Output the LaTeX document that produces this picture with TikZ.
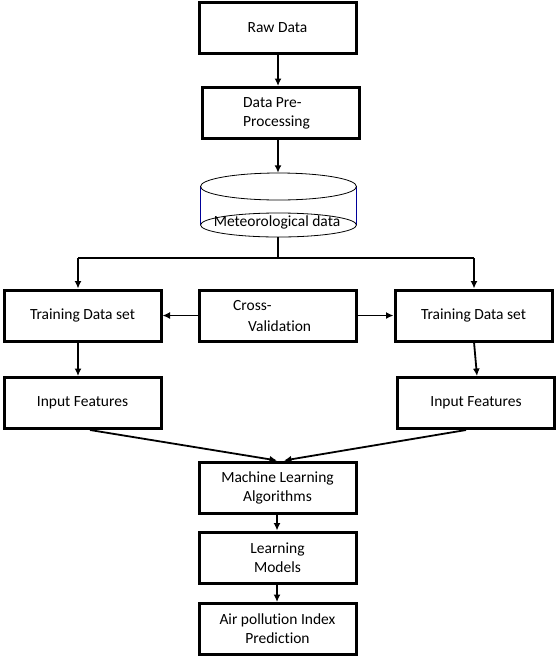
\documentclass[tikz,border=0pt]{standalone}
\usepackage{fontspec}
\setmainfont{Carlito}[RawFeature=-liga]
\usetikzlibrary{arrows.meta}
\begin{document}
\begin{tikzpicture}[x=1pt,y=-1pt,
  box/.style={draw=black,line width=3pt,minimum width=157pt,minimum height=51pt,inner sep=0pt,font=\fontsize{15.5}{19}\selectfont,align=center},
  txt/.style={font=\fontsize{15.5}{19}\selectfont,inner sep=0pt},
  arr/.style={line width=1.8pt,-{Latex[length=7.5pt,width=7pt]}},
  ln/.style={line width=1.8pt}]
\useasboundingbox (0,0) rectangle (557,657);
% boxes
\node[box] (raw) at (277.5,27.5) {Raw Data};
\node[box] (pre) at (280.5,113) {};
\node[txt,anchor=west,align=left] (pret) at (243,113) {Data Pre-\\Processing};
% cylinder
\node[inner sep=0pt,minimum width=157pt,minimum height=64pt] (cyl) at (278.5,205) {};
\draw[line width=0.6pt,draw=black!40!blue] (200.5,186.5) -- (200.5,225);
\draw[line width=0.6pt,draw=black!40!blue] (356.5,186.5) -- (356.5,225);
\draw[line width=0.8pt,fill=white] (278.5,186.5) ellipse [x radius=78, y radius=13.5];
\draw[line width=0.8pt] (278.5,225) ellipse [x radius=78, y radius=12];
\node[txt] (cylt) at (277,222) {Meteorological data};
% second row
\node[box] (ltr) at (82.5,315.5) {Training Data set};
\node[box] (cv) at (277.5,315.5) {};
\node[txt,anchor=west] (cvt1) at (233,306) {Cross-};
\node[txt,anchor=west] (cvt2) at (248,326) {Validation};
\node[box] (rtr) at (473.5,315.5) {Training Data set};
% third row
\node[box] (lin) at (82.5,403) {Input Features};
\node[box] (rin) at (476,403) {Input Features};
% bottom
\node[box] (ml) at (277.5,487.5) {Machine Learning\\Algorithms};
\node[box] (lm) at (277.5,557.5) {Learning\\Models};
\node[box] (ap) at (277.5,629) {Air pollution Index\\Prediction};
% connectors
\draw[arr] (raw.south -| 278,0) -- (pre.north -| 278,0);
\draw[arr] (pre.south -| 278,0) -- (cyl.north -| 278,0);
\coordinate (split) at (278,258);
\coordinate (splitl) at (78,258);
\coordinate (splitr) at (474,258);
\draw[ln] (cyl.south -| split) -- (split);
\draw[ln] (splitl) -- (splitr);
\draw[arr] (splitl) -- (ltr.north -| splitl);
\draw[arr] (splitr) -- (rtr.north -| splitr);
\draw[arr] (cv.west) -- (ltr.east);
\draw[arr] (cv.east) -- (rtr.east -| rtr.west);
\draw[arr] (ltr.south -| 78,0) -- (lin.north -| 78,0);
\draw[arr] (474,342) -- (rin.north -| 477,0);
\draw[arr] (lin.south -| 90,0) -- (ml.north -| 277,0);
\draw[arr] (rin.south -| 466,0) -- (ml.north -| 284,0);
\draw[arr] (ml.south -| 277,0) -- (lm.north -| 277,0);
\draw[arr] (lm.south -| 277,0) -- (ap.north -| 277,0);
\end{tikzpicture}
\end{document}
